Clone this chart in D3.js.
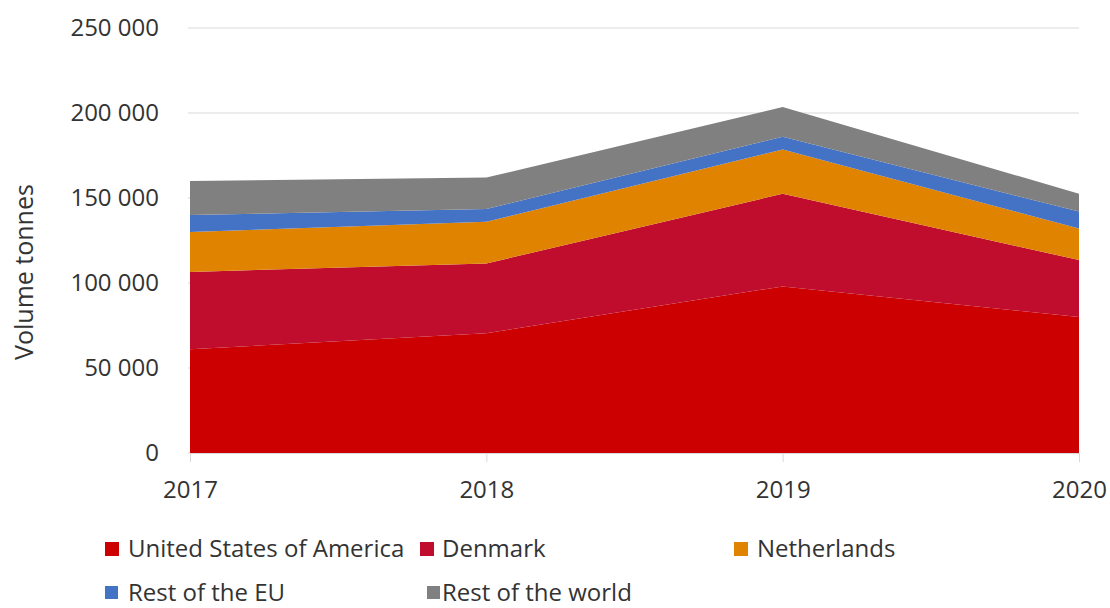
<!DOCTYPE html>
<html>
<head>
<meta charset="utf-8">
<script src="https://cdn.jsdelivr.net/npm/d3@7"></script>
<style>
  body { margin: 0; background: #fff; }
  svg { display: block; font-family: "Open Sans", sans-serif; }
</style>
</head>
<body>
<svg></svg>
<script>
let width = 1110, height = 608

// data
let years = [2017, 2018, 2019, 2020]
let usa         = [61000, 70500, 98000, 80000]
let denmark     = [45500, 41000, 54500, 33500]
let netherlands = [23500, 24500, 26000, 18500]
let restEU      = [10000, 7500, 7500, 10000]
let restWorld   = [20000, 18500, 17500, 10500]
let seriesNames = ["United States of America", "Denmark", "Netherlands", "Rest of the EU", "Rest of the world"]
let seriesColors = ["#cc0000", "#c00d2e", "#e08300", "#4472c4", "#808080"]
let yTicks = [0, 50000, 100000, 150000, 200000, 250000]

let seriesValues = [usa, denmark, netherlands, restEU, restWorld]
let keys = seriesNames
let table = years.map((yr, i) => {
    let row = {year: yr}
    keys.forEach((k, j) => row[k] = seriesValues[j][i])
    return row
})

let svg = d3.select("svg").attr("width", width).attr("height", height)

let x = d3.scaleLinear().domain([2017, 2020]).range([190, 1079])
let y = d3.scaleLinear().domain([0, 250000]).range([453, 28])

let fmt = v => d3.format(",")(v).replace(/,/g, " ")
let fontSize = 24

// gridlines
svg.append("g")
    .selectAll("line")
    .data(yTicks)
    .enter()
    .append("line")
    .attr("x1", x(2017) - 2)
    .attr("x2", x(2020))
    .attr("y1", d => y(d))
    .attr("y2", d => y(d))
    .attr("stroke", "#d9d9d9")
    .attr("stroke-width", 1)

let stack = d3.stack().keys(keys)
let layers = stack(table)

let area = d3.area()
    .x(d => x(d.data.year))
    .y0(d => y(d[0]))
    .y1(d => y(d[1]))

svg.append("g")
    .selectAll("path")
    .data(layers)
    .enter()
    .append("path")
    .attr("d", area)
    .attr("fill", (d, i) => seriesColors[i])

// x axis
let xAxis = d3.axisBottom(x)
    .tickValues(years)
    .tickFormat(d3.format("d"))
    .tickSize(9)
    .tickPadding(19)

let gx = svg.append("g")
    .attr("transform", `translate(0,${y(0)})`)
    .call(xAxis)
gx.select(".domain").attr("stroke", "#d9d9d9")
gx.selectAll(".tick line").attr("stroke", "#d9d9d9")
gx.selectAll("text")
    .attr("font-size", fontSize)
    .attr("fill", "#333")
    .attr("font-family", "Open Sans, sans-serif")

// y axis
let yAxis = d3.axisLeft(y)
    .tickValues(yTicks)
    .tickFormat(fmt)
    .tickSize(0)
    .tickPadding(31)

let gy = svg.append("g")
    .attr("transform", `translate(${x(2017)},0)`)
    .call(yAxis)
gy.select(".domain").remove()
gy.selectAll("text")
    .attr("font-size", fontSize)
    .attr("fill", "#333")
    .attr("font-family", "Open Sans, sans-serif")

svg.append("text")
    .attr("transform", "translate(33,272) rotate(-90)")
    .attr("text-anchor", "middle")
    .attr("font-size", 25)
    .attr("fill", "#333")
    .text("Volume tonnes")

// legend
let legendPos = [
    {sx: 105, tx: 128, y: 548},
    {sx: 420, tx: 442, y: 548},
    {sx: 734, tx: 757, y: 548},
    {sx: 105, tx: 128, y: 592},
    {sx: 427, tx: 442, y: 592}
]

let legend = svg.append("g")
    .selectAll("g")
    .data(seriesNames)
    .enter()
    .append("g")

legend.append("rect")
    .attr("x", (d, i) => legendPos[i].sx)
    .attr("y", (d, i) => legendPos[i].y - 6)
    .attr("width", (d, i) => i < 3 ? 14 : 13)
    .attr("height", (d, i) => i < 3 ? 14 : 13)
    .attr("fill", (d, i) => seriesColors[i])

legend.append("text")
    .attr("x", (d, i) => legendPos[i].tx)
    .attr("y", (d, i) => legendPos[i].y + 9)
    .attr("font-size", fontSize)
    .attr("fill", "#333")
    .text(d => d)
</script>
</body>
</html>
